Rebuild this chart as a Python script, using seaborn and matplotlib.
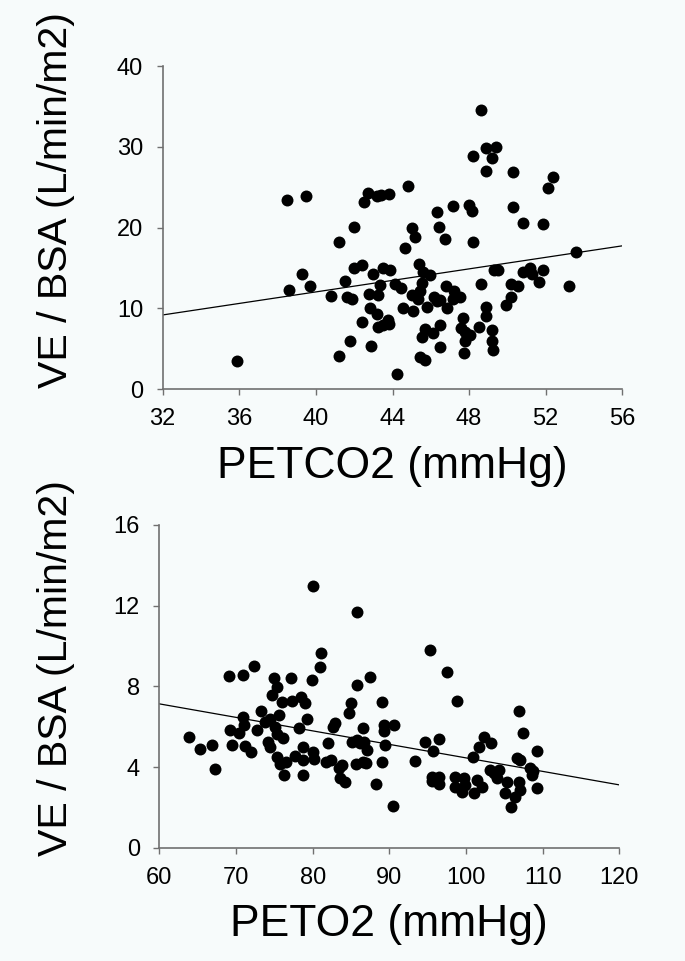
import matplotlib
matplotlib.use("Agg")
import matplotlib.pyplot as plt
import numpy as np
import pandas as pd
import seaborn as sns

# top panel: PETCO2 vs VE/BSA
petco2 = [35.9, 38.5, 39.5, 38.6, 39.3, 39.7, 40.8, 41.2, 41.2, 41.5, 41.65, 41.86, 41.8, 42.0, 42.0,
          42.4, 42.4, 42.5, 42.7, 42.75, 42.8, 42.9, 42.96, 43.2, 43.4, 43.8, 44.8, 48.6, 48.9, 49.4,
          49.2, 48.2, 48.9, 50.3, 52.4, 52.1, 47.15, 48.0, 48.15, 46.3, 50.3, 45.0, 46.45, 45.2, 46.75,
          44.65, 48.2, 50.8, 51.85, 53.6, 53.2, 49.3, 49.5, 50.8, 51.2, 51.3, 51.65, 51.85, 50.2, 50.55,
          50.2, 49.95, 48.6, 48.9, 48.9, 48.5, 49.2, 49.2, 49.25, 47.7, 47.6, 47.8, 48.05, 47.8, 47.75,
          46.5, 46.1, 45.7, 45.55, 46.5, 45.45, 45.7, 44.25, 43.2, 43.25, 43.5, 43.75, 43.8, 43.25, 43.35,
          43.5, 43.85, 44.15, 44.45, 45.0, 44.55, 45.05, 45.4, 45.6, 45.95, 45.55, 45.45, 45.35, 45.8,
          46.15, 46.5, 46.3, 46.85, 46.8, 47.2, 47.55, 47.15]
ve_top = [3.5, 23.4, 23.9, 12.3, 14.3, 12.8, 11.5, 18.2, 4.1, 13.4, 11.4, 11.1, 5.9, 20.1, 15.0,
          15.4, 8.3, 23.1, 24.3, 11.8, 10.0, 5.3, 14.3, 23.9, 24.0, 24.1, 25.1, 34.5, 29.8, 30.0,
          28.6, 28.9, 27.0, 26.9, 26.2, 24.9, 22.7, 22.8, 22.1, 21.9, 22.6, 20.0, 20.1, 18.8, 18.6,
          17.5, 18.2, 20.5, 20.4, 17.0, 12.7, 14.8, 14.8, 14.5, 15.0, 14.2, 13.3, 14.75, 13.0, 12.7,
          11.4, 10.4, 13.0, 10.2, 9.1, 7.7, 7.3, 6.0, 4.8, 8.8, 7.5, 7.0, 6.7, 5.9, 4.4,
          7.9, 6.9, 7.4, 6.4, 5.2, 4.0, 3.6, 1.9, 9.3, 7.7, 7.9, 8.6, 8.1, 11.6, 12.9,
          15.0, 14.75, 13.0, 12.5, 11.65, 10.0, 9.7, 15.45, 14.5, 14.1, 13.1, 12.1, 11.2, 10.2,
          11.4, 11.0, 10.9, 10.0, 12.7, 12.1, 11.4, 11.2]

# bottom panel: PETO2 vs VE/BSA
peto2 = [63.9, 65.3, 66.9, 67.3, 69.1, 70.85, 72.3, 69.25, 69.45, 70.4, 70.9, 71.05, 71.2, 72.0, 72.7,
         73.3, 73.8, 74.4, 74.15, 74.4, 74.9, 75.4, 74.7, 76.0, 75.55, 75.1, 75.3, 76.1, 75.3, 75.75,
         76.5, 76.2, 77.2, 77.3, 78.5, 78.95, 79.25, 78.2, 77.65, 78.8, 78.8, 78.7, 80.1, 80.2, 80.05,
         81.05, 80.9, 79.9, 82.0, 81.8, 82.4, 82.6, 82.9, 83.4, 83.8, 83.6, 84.2, 84.8, 85.05, 85.8,
         85.8, 86.6, 85.1, 85.8, 86.2, 85.6, 86.6, 87.5, 89.05, 89.25, 90.55, 89.3, 86.65, 87.1, 89.5,
         86.9, 89.05, 88.25, 90.45, 93.4, 94.7, 96.45, 95.7, 95.35, 97.5, 98.85, 95.55, 95.55, 96.45,
         96.45, 98.6, 98.6, 99.5, 99.7, 99.9, 101.0, 101.45, 102.1, 100.9, 101.7, 102.35, 103.2, 103.1,
         103.6, 104.3, 104.1, 105.4, 105.1, 105.9, 106.4, 106.9, 107.1, 106.6, 107.0, 106.9, 107.5,
         108.3, 108.8, 108.6, 109.3, 109.3]
ve_bot = [5.47, 4.88, 5.07, 3.9, 8.53, 8.56, 9.02, 5.83, 5.09, 5.67, 6.46, 6.08, 5.04, 4.74, 5.83,
          6.79, 6.25, 6.36, 5.26, 5.0, 8.4, 7.95, 7.57, 7.24, 6.58, 6.0, 5.64, 5.42, 4.51, 4.15,
          4.26, 3.6, 8.4, 7.29, 7.49, 7.16, 6.38, 5.95, 4.55, 4.98, 4.35, 3.59, 4.73, 4.41, 12.99,
          9.67, 8.96, 8.31, 5.17, 4.26, 4.35, 6.0, 6.2, 3.97, 4.1, 3.44, 3.24, 6.66, 7.19, 11.67,
          8.07, 5.92, 5.26, 5.34, 5.2, 4.15, 4.26, 8.45, 7.24, 6.08, 6.08, 5.8, 5.26, 4.84, 5.09,
          4.2, 4.26, 3.14, 2.08, 4.3, 5.26, 5.39, 4.81, 9.8, 8.71, 7.27, 3.52, 3.32, 3.49,
          3.14, 3.52, 3.02, 2.74, 3.44, 3.1, 2.73, 3.36, 3.02, 4.51, 5.0, 5.47, 5.17, 3.85,
          3.69, 3.85, 3.44, 3.27, 2.69, 2.03, 2.53, 3.24, 2.86, 4.43, 4.35, 6.76, 5.7,
          3.93, 3.82, 3.6, 4.79, 2.96]

top_xticks = [32, 36, 40, 44, 48, 52, 56]
top_yticks = [0, 10, 20, 30, 40]
bot_xticks = [60, 70, 80, 90, 100, 110, 120]
bot_yticks = [0, 4, 8, 12, 16]

df_top = pd.DataFrame({"x": petco2, "y": ve_top})
df_bot = pd.DataFrame({"x": peto2, "y": ve_bot})

sns.set_style("ticks")
plt.rcParams["font.family"] = ["Liberation Sans", "DejaVu Sans"]
plt.rcParams["text.color"] = "black"
plt.rcParams["xtick.labelcolor"] = "black"
plt.rcParams["ytick.labelcolor"] = "black"
plt.rcParams["axes.labelcolor"] = "black"

bg = "#f7fbfb"
fig = plt.figure(figsize=(6.85, 9.61), dpi=100, facecolor=bg)
ax1 = fig.add_axes([0.2375, 0.5952, 0.671, 0.3361])
ax2 = fig.add_axes([0.2326, 0.1179, 0.6715, 0.3358])

panels = [(ax1, df_top, top_xticks, top_yticks, "PETCO2 (mmHg)"),
          (ax2, df_bot, bot_xticks, bot_yticks, "PETO2 (mmHg)")]

for ax, d, xt, yt, xl in panels:
    ax.set_facecolor(bg)
    ax.set_xlim(xt[0], xt[-1])
    ax.set_ylim(yt[0], yt[-1])
    sns.scatterplot(data=d, x="x", y="y", ax=ax, color="black", s=74,
                    edgecolor="black", linewidth=0, zorder=3)
    sns.regplot(data=d, x="x", y="y", ax=ax, scatter=False, ci=None, truncate=False,
                line_kws={"color": "black", "linewidth": 0.9})
    ax.set_xlim(xt[0], xt[-1])
    ax.set_ylim(yt[0], yt[-1])
    ax.set_xticks(xt)
    ax.set_yticks(yt)
    ax.tick_params(labelsize=17, length=4, width=1, color="#707070", labelcolor="black", pad=10)
    for s in ["top", "right"]:
        ax.spines[s].set_visible(False)
    for s in ["left", "bottom"]:
        ax.spines[s].set_color("#707070")
        ax.spines[s].set_linewidth(1.2)
    ax.set_xlabel(xl, fontsize=32, labelpad=11, color="black")
    ax.set_ylabel("")

ylab = "VE / BSA (L/min/m2)"
fig.text(56 / 685, 1 - 200 / 961, ylab, rotation=90, ha="center", va="center",
         fontsize=29.5, color="black")
fig.text(56 / 685, 1 - 668 / 961, ylab, rotation=90, ha="center", va="center",
         fontsize=29.5, color="black")

fig.savefig("out.png", dpi=100, facecolor=bg)
